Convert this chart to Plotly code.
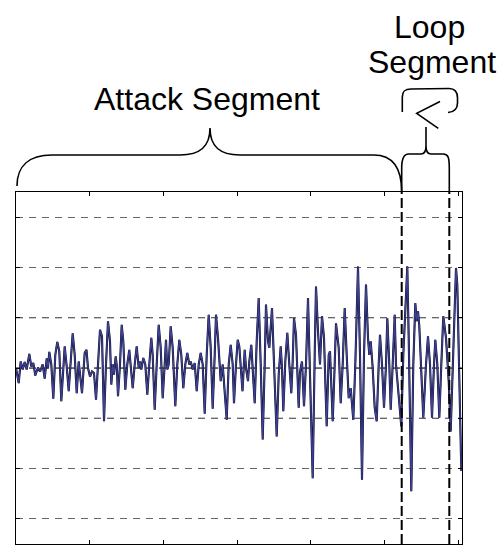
import plotly.graph_objects as go

# ---------------- data ----------------
time_ms = [
    0, 2.7, 4.7, 6.7, 8.7, 10.7, 13.3, 15.3, 17.3, 19.3, 22, 24, 26.7, 28.7, 30.7, 32, 33.3, 35.3,
    37.3, 39.3, 41.3, 43.3, 45.3, 47.3, 48.7, 50.7, 52.7, 54.7, 56.7, 58.7, 60.7, 62.7, 66, 68.7,
    70.5, 72,
    74, 76, 78, 80, 82, 84, 86, 88, 90, 92, 94, 95.3, 96.7, 98, 99.7, 100.7, 102, 104, 105.7, 107.3,
    109.3, 111.3, 113.3, 114.7, 116.7, 118.7, 120.7, 122.7, 124, 125.3, 127.3, 129.3, 131.3, 133.3,
    135.3, 136.7, 138.7, 140.7, 142.7, 144.7, 146.7, 148.7, 150,
    151.3, 152.7, 154.7, 156.7, 159.3, 161.3, 163.3, 165.3, 167.3, 169.3, 171.3, 173.3, 174.7, 176.7,
    178.7, 180.7, 182.7, 184.7, 186.7, 188.7, 190.7, 192.7, 194.7, 196.7, 198.7, 200, 202, 204.7,
    206.7, 208.7, 210.7, 212.7, 214.7, 216.7, 218, 220, 221.7, 223.3, 226.5,
    228.7, 230, 232, 233.3, 235.3, 236.7, 238.7, 240.7, 242.7, 244.7, 246.7, 248.7, 250, 252, 253.3,
    256, 258, 260.7, 262.7, 264.7, 266, 267.3, 269.3, 271.3, 273.3, 275.3, 276.7, 278, 280, 281.3,
    282.7, 284, 286, 288, 290, 292, 294, 296.7, 298.7, 300, 302,
    304, 306, 308, 310.7, 312.7, 314, 316.7, 318.7, 320, 322.7, 324.7, 326.7, 328.7, 330.7, 332.7,
    334.7, 337.3, 339.3, 342, 344, 346, 348, 350, 352, 353.3, 354.7, 356.7, 358.7, 360.7, 362.7,
    364, 366, 368, 370, 371.3, 373.3, 374.7, 376.7, 378.7,
    380, 381.3, 385.3, 387.3, 390, 391.3, 392.7, 395.3, 397.3, 399.3, 400.7, 402, 403.3, 404.7,
    407.3, 410, 412, 414, 416, 418, 419.3, 421.3, 423.3, 425.3, 427.3, 430, 432.7, 434.7, 436.7,
    440, 441.3, 443.3, 445.3,
]
amplitude = [
    0, -0.30, 0.13, -0.03, 0.12, -0.03, 0.28, 0.03, 0.10, -0.15, 0.01, -0.07, 0.07, -0.21, 0.19, 0, 0.32, 0.07,
    -0.61, 0.26, 0.52, 0.33, -0.66, 0.13, 0.43, 0.03, -0.46, 0.13, 0.69, 0.26, -0.50, 0.13, -0.50, 0.30,
    0.36, 0,
    -0.17, -0.07, -0.10, -0.63, 0.07, 0.76, 0.63, -1.06, 0.07, 0.93, 0.53, -0.33, 0.07, -0.13, 0.23, 0.07, -0.56, 0.07, 0.86, 0.53,
    -0.43, 0.07, 0.36, 0, -0.40, 0.07, 0.43, 0, 0.13, -0.03, 0.20, 0.07, -0.53, 0.07,
    0.60, 0.26, -0.83, 0.07, 0.86, 0.40, -0.60, 0.07, 0.56,
    -0.03, 0.07, 0.83, 0.40, -0.76, 0.07, 0.56, 0.26, -0.40, 0.07, 0.30, 0.07, 0.13, -0.03,
    0.10, -0.46, 0.07, 0.30, 0.07, -0.91, 0.26, 1.06, 0.40, -0.81, 0.26, 1.06, 0.60, -0.26,
    0.07, -0.53, -1.03, 0.07, 0.46, 0.07, -0.70, 0.07, 0.56, 0.43, -0.46,
    0.36, 0, -0.26, 0.13, 0.46, 0, -0.70, 0.53, 1.39, 0.07, -1.42, 0.07, 1.26, 0.53, 0.40,
    1.19, 0.07, -1.36, -0.13, 0.43, 0, -0.86, 0.13, 0.70, 0.07, -0.50, 0.13, 0.99, 0.66, 0.07,
    -0.79, -0.07, 0.13, -0.76, 0.07, 1.39, 0.07, -2.19, 0.26, 1.62, 0.73,
    0.07, 1.03, 0.60, -1.16, 0.26, 0.33, -1.06, 0.07, 0.89, 0.40, -0.70, 0.07, 1.19, 0.26, -0.60,
    -0.40, -1.03, 0.07, 2.02, 0.26, -2.22, 0.26, 1.66, 0.60, 0.26, 0.53, 0, -0.79, -1.06, 0.07,
    0.66, 0.07, -0.79, 0.07, 0.99, 0.07, -0.83, 0.07, 1.06,
    0.07, -0.20, -1.16, 0.26, 1.46, 2.02, 0.60, -2.45, 0.07, 1.29, 0.93, 1.13, 0.83, 0.07,
    -0.99, 0.07, 0.63, 0.07, -0.99, 0.07, 0.56, 0.07, -0.99, 0.07, 1.03, 0.60, -0.26, -1.26, 0.07,
    1.99, 1.66, 0.07, -2.05,
]
loop_start = 385.7
loop_end = 433.3
grid_levels = [-3, -2, -1, 0, 1, 2, 3]
dark_grid_levels = [-1, 0, 1]
attack_label = "Attack Segment"
loop_label_lines = ["Loop", "Segment"]

# ---------------- layout geometry ----------------
W, H = 501, 546
L, R, T, B = 16, 39, 192, 2
PW, PH = W - L - R, H - T - B
X_RANGE = [0, 446]
Y_RANGE = [-3.5, 3.5]
TICK_STEP = 73.7


def xpix(t):
    return L + (t - X_RANGE[0]) / (X_RANGE[1] - X_RANGE[0]) * PW


def paper(px, py):
    return (px - L) / PW, (H - B - py) / PH


def path_from_pixels(cmds):
    out = []
    for c in cmds:
        op, pts = c[0], c[1:]
        coords = []
        for (px, py) in pts:
            u, v = paper(px, py)
            coords.append(f"{u:.5f},{v:.5f}")
        out.append(op + " " + " ".join(coords))
    return " ".join(out)


fig = go.Figure()
fig.add_trace(go.Scatter(x=time_ms, y=amplitude, mode="lines",
                         line=dict(color="#0a0a1e", width=2.1), hoverinfo="skip", showlegend=False))
fig.add_trace(go.Scatter(x=time_ms, y=amplitude, mode="lines",
                         line=dict(color="#3d4094", width=1.3), hoverinfo="skip", showlegend=False))

shapes = []
# darker grid lines
for lv in dark_grid_levels:
    shapes.append(dict(type="line", xref="paper", yref="y", x0=0, x1=1, y0=lv, y1=lv,
                       line=dict(color="#000000", width=1, dash="7px,6px"), layer="below"))

# loop boundary dashed lines
for tb in (loop_start, loop_end):
    u, _ = paper(xpix(tb), 0)
    shapes.append(dict(type="line", xref="paper", yref="paper", x0=u, x1=u, y0=0, y1=1,
                       line=dict(color="#000000", width=2, dash="10px,4px")))

# attack brace
xa0, xa1 = xpix(0) + 1, xpix(loop_start)
xm = 210
yb, ym, yt = 186, 155, 128
attack_path = path_from_pixels([
    ("M", (xa0, yb)),
    ("C", (xa0, 166), (xa0 + 12, ym), (xa0 + 35, ym)),
    ("L", (xm - 30, ym)),
    ("C", (xm - 10, ym), (xm, ym - 8), (xm, yt)),
    ("C", (xm, ym - 8), (xm + 10, ym), (xm + 30, ym)),
    ("L", (xa1 - 28, ym)),
    ("C", (xa1 - 10, ym), (xa1, 166), (xa1, 192)),
])
shapes.append(dict(type="path", xref="paper", yref="paper", path=attack_path,
                   line=dict(color="#000000", width=1.6)))

# loop brace
xl0, xl1 = xpix(loop_start), xpix(loop_end)
xt = 426
loop_path = path_from_pixels([
    ("M", (xl0, 192)),
    ("L", (xl0, 168)),
    ("C", (xl0, 158), (xl0 + 2, 154), (xl0 + 7, 154)),
    ("L", (xt - 5, 154)),
    ("C", (xt - 1, 154), (xt, 151), (xt, 146)),
    ("L", (xt, 127)),
    ("M", (xt, 146)),
    ("C", (xt, 151), (xt + 1, 154), (xt + 5, 154)),
    ("L", (xl1 - 6, 154)),
    ("C", (xl1 - 1, 154), (xl1, 158), (xl1, 168)),
    ("L", (xl1, 192)),
])
shapes.append(dict(type="path", xref="paper", yref="paper", path=loop_path,
                   line=dict(color="#000000", width=1.6)))

# loop arrow
arrow_path = path_from_pixels([
    ("M", (402.3, 112)),
    ("L", (402.3, 97)),
    ("C", (402.3, 91), (405, 89), (411, 89)),
    ("L", (449, 88.5)),
    ("C", (455, 88.5), (457.5, 92), (457.5, 98)),
    ("L", (457.5, 103)),
    ("C", (457.5, 109), (454, 112), (448, 112.5)),
    ("M", (440, 101.5)),
    ("L", (416.7, 113.3)),
    ("L", (438.3, 128.3)),
])
shapes.append(dict(type="path", xref="paper", yref="paper", path=arrow_path,
                   line=dict(color="#000000", width=1.6)))

font = dict(family="Liberation Sans, Arial, sans-serif", size=32, color="#000000")
annotations = []
for text, (px, py) in [(attack_label, (207, 99)),
                       (loop_label_lines[0], (429, 27)),
                       (loop_label_lines[1], (432, 62))]:
    u, v = paper(px, py)
    annotations.append(dict(text=text, x=u, y=v, xref="paper", yref="paper",
                            xanchor="center", yanchor="middle", showarrow=False, font=font))

fig.update_layout(
    width=W, height=H,
    margin=dict(l=L, r=R, t=T, b=B, pad=0),
    paper_bgcolor="white", plot_bgcolor="white",
    showlegend=False,
    shapes=shapes,
    annotations=annotations,
    xaxis=dict(range=X_RANGE, tick0=0, dtick=TICK_STEP, ticks="inside", ticklen=4, tickwidth=1,
               tickcolor="#000000", showticklabels=False, showgrid=False, zeroline=False,
               showline=True, linecolor="#000000", linewidth=1, mirror="ticks"),
    yaxis=dict(range=Y_RANGE, tickvals=grid_levels, ticks="inside", ticklen=4, tickwidth=1,
               tickcolor="#000000", showticklabels=False, showgrid=True, gridcolor="#666666",
               gridwidth=1, griddash="7px,6px", zeroline=False,
               showline=True, linecolor="#000000", linewidth=1, mirror="ticks"),
)

fig.write_html("out.html",
               config={"displayModeBar": False},
               post_script="document.body.style.margin='0';document.body.style.overflow='hidden';")
